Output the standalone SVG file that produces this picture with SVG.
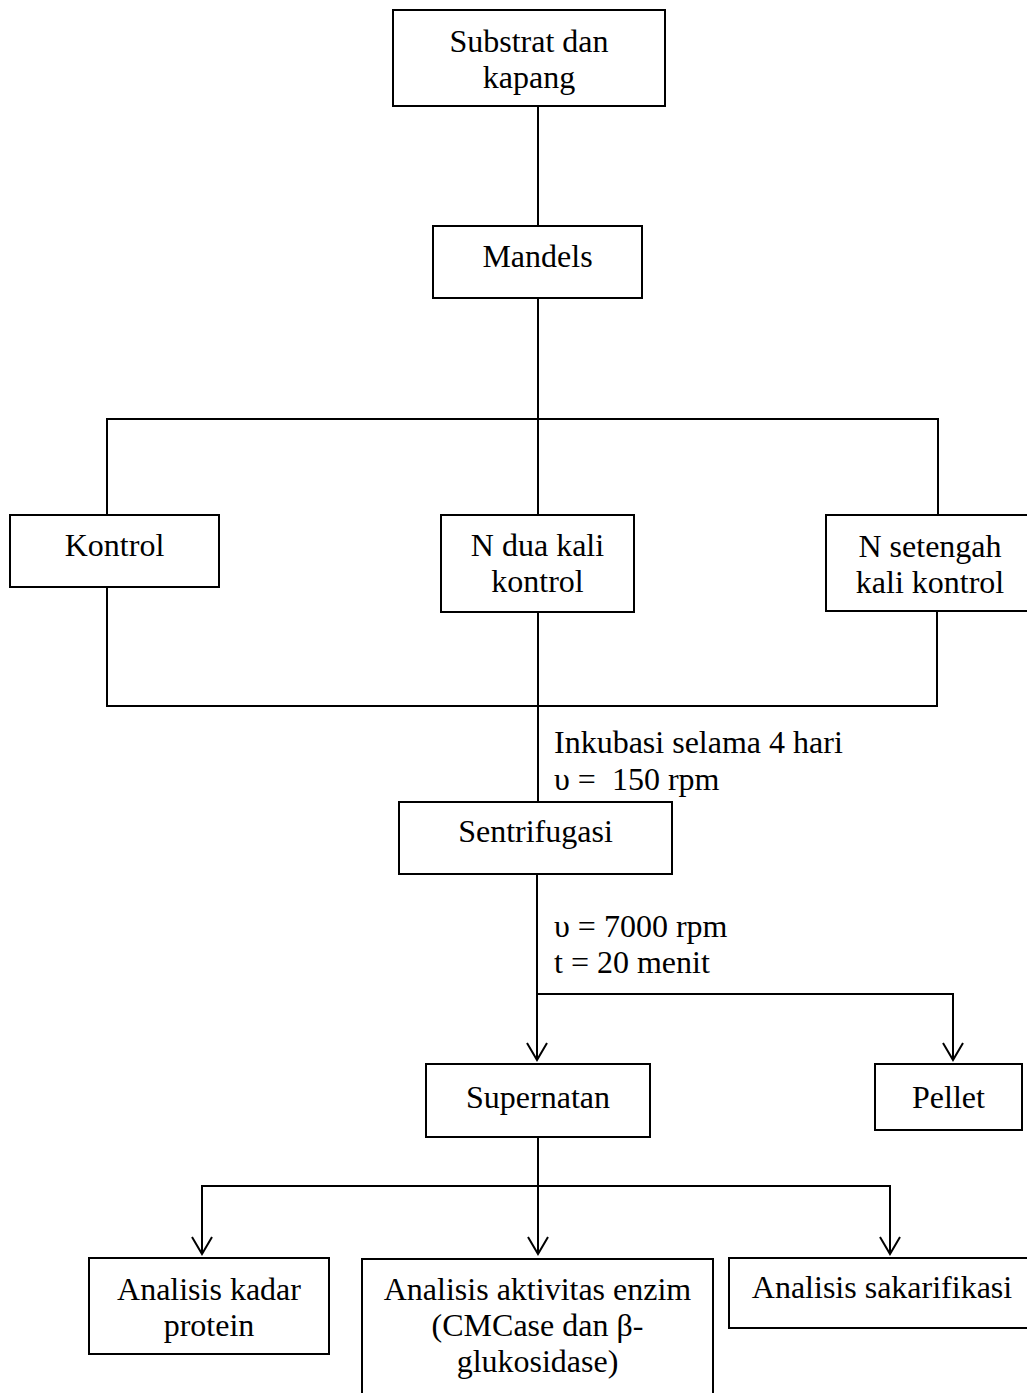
<svg xmlns="http://www.w3.org/2000/svg" width="1027" height="1393" viewBox="0 0 1027 1393">
<style>
.box{fill:#fff;stroke:#000;stroke-width:2}
.t{font-family:"Liberation Serif","Times New Roman",serif;font-size:32px;fill:#000}
.c{text-anchor:middle}
.ln{fill:none;stroke:#000;stroke-width:2}
</style>
<defs>
<marker id="arr" markerUnits="userSpaceOnUse" viewBox="-20 -12 22 24" markerWidth="22" markerHeight="24" refX="0" refY="0" orient="auto" overflow="visible">
<path d="M-17,-10 L0,0 L-17,10" fill="none" stroke="#000" stroke-width="2"/>
</marker>
</defs>
<rect width="1027" height="1393" fill="#fff"/>
<g id="connectors">
<path class="ln" d="M538,106 V226"/>
<path class="ln" d="M538,298 V419"/>
<path class="ln" d="M107,515 V419 H938 V515"/>
<path class="ln" d="M538,419 V515"/>
<path class="ln" d="M107,587 V706 H937 V611"/>
<path class="ln" d="M538,612 V802"/>
<path class="ln" d="M537,874 V1060" marker-end="url(#arr)"/>
<path class="ln" d="M537,994 H953 V1060" marker-end="url(#arr)"/>
<path class="ln" d="M538,1137 V1254" marker-end="url(#arr)"/>
<path class="ln" d="M538,1186 H202 V1254" marker-end="url(#arr)"/>
<path class="ln" d="M538,1186 H890 V1254" marker-end="url(#arr)"/>
</g>
<g id="label-inkubasi">
<text class="t" x="554" y="753">Inkubasi selama 4 hari</text>
<text class="t" x="554" y="790" xml:space="preserve">υ =  150 rpm</text>
</g>
<g id="label-sentrifugasi">
<text class="t" x="554" y="937">υ = 7000 rpm</text>
<text class="t" x="554" y="973">t = 20 menit</text>
</g>
<g id="n-substrat">
<rect class="box" x="393" y="10" width="272" height="96"/>
<text class="t c" x="529" y="52">Substrat dan</text>
<text class="t c" x="529" y="88">kapang</text>
</g>
<g id="n-mandels">
<rect class="box" x="433" y="226" width="209" height="72"/>
<text class="t c" x="537.5" y="267">Mandels</text>
</g>
<g id="n-kontrol">
<rect class="box" x="10" y="515" width="209" height="72"/>
<text class="t c" x="114.5" y="556">Kontrol</text>
</g>
<g id="n-ndua">
<rect class="box" x="441" y="515" width="193" height="97"/>
<text class="t c" x="537.5" y="556">N dua kali</text>
<text class="t c" x="537.5" y="592">kontrol</text>
</g>
<g id="n-nsetengah">
<rect class="box" x="826" y="515" width="208" height="96"/>
<text class="t c" x="930" y="557">N setengah</text>
<text class="t c" x="930" y="593">kali kontrol</text>
</g>
<g id="n-sentrifugasi">
<rect class="box" x="399" y="802" width="273" height="72"/>
<text class="t c" x="535.5" y="842">Sentrifugasi</text>
</g>
<g id="n-supernatan">
<rect class="box" x="426" y="1064" width="224" height="73"/>
<text class="t c" x="538" y="1108">Supernatan</text>
</g>
<g id="n-pellet">
<rect class="box" x="875" y="1064" width="147" height="66"/>
<text class="t c" x="948.5" y="1108">Pellet</text>
</g>
<g id="n-protein">
<rect class="box" x="89" y="1258" width="240" height="96"/>
<text class="t c" x="209" y="1300">Analisis kadar</text>
<text class="t c" x="209" y="1336">protein</text>
</g>
<g id="n-enzim">
<rect class="box" x="362" y="1259" width="351" height="150"/>
<text class="t c" x="537.5" y="1300">Analisis aktivitas enzim</text>
<text class="t c" x="537.5" y="1336">(CMCase dan β-</text>
<text class="t c" x="537.5" y="1372">glukosidase)</text>
</g>
<g id="n-sakarifikasi">
<rect class="box" x="729" y="1258" width="306" height="70"/>
<text class="t c" x="882" y="1298">Analisis sakarifikasi</text>
</g>
</svg>
